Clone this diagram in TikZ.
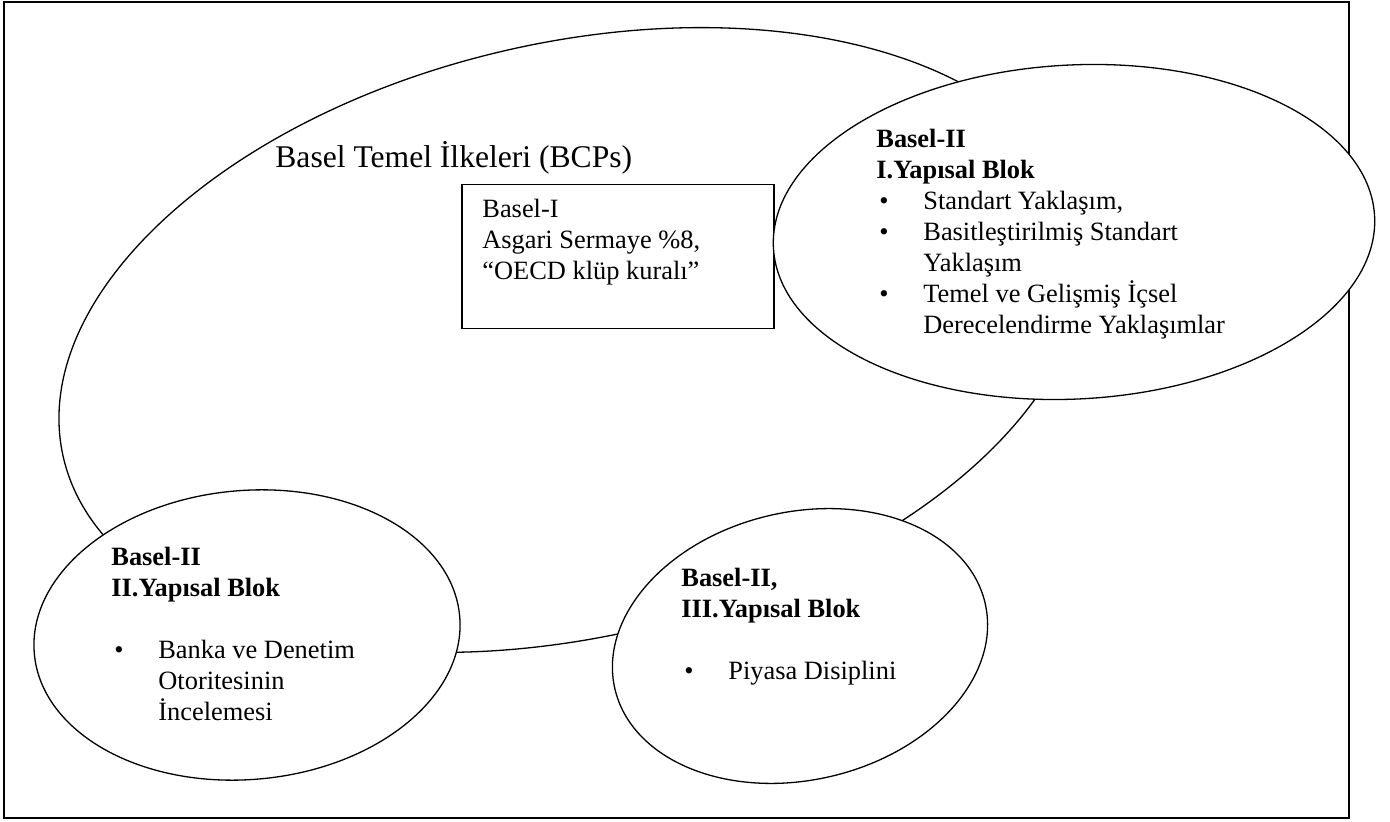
\documentclass[tikz,border=0pt]{standalone}
\usepackage{fontspec}
\setmainfont{Liberation Serif}
\newcommand{\bmark}{\makebox[23.5pt][l]{\kern1.5pt\textbullet}}
\newcommand{\bskip}{\hspace*{23.5pt}}

\begin{document}
\begin{tikzpicture}[x=0.5pt, y=-0.5pt,
    blob/.style={draw, line width=0.65pt, fill=white},
    txt/.style={inner sep=0pt, anchor=base west, align=left, font=\fontsize{13.2}{15.5}\selectfont},
    box/.style={draw, line width=0.75pt, inner sep=0pt, anchor=north west, minimum width=156pt, minimum height=72pt}
]
    \useasboundingbox (0,0) rectangle (1390,822);
    \draw[line width=1pt] (4,2) rectangle (1349,818);

    \draw[line width=0.65pt, rotate around={13:(572,340)}] (572,340) ellipse [x radius=522, y radius=297];
    \node[txt, font=\fontsize{15.8}{18}\selectfont] (bcp) at (275,168) {Basel Temel İlkeleri (BCPs)};

    \node[box] (b1) at (461,184) {};
    \node[txt] (b1txt) at (482,280) {Basel-I\\ Asgari Sermaye \%8,\\ “OECD klüp kuralı”};

    \draw[blob, rotate around={3:(1074,232)}] (1074,232) ellipse [x radius=301, y radius=167];
    \node[txt] (p1) at (876,334) {\textbf{Basel-II}\\ \textbf{I.Yapısal Blok}\\
        \bmark Standart Yaklaşım,\\ \bmark Basitleştirilmiş Standart\\ \bskip Yaklaşım\\
        \bmark Temel ve Gelişmiş İçsel\\ \bskip Derecelendirme Yaklaşımlar};

    \draw[blob, rotate around={5:(247,635)}] (247,635) ellipse [x radius=213.5, y radius=144.5];
    \node[txt] (p2) at (111,720) {\textbf{Basel-II}\\ \textbf{II.Yapısal Blok}\\[15.5pt]
        \bmark Banka ve Denetim\\ \bskip Otoritesinin\\ \bskip İncelemesi};

    \draw[blob, rotate around={13:(800,646)}] (800,646) ellipse [x radius=190, y radius=134];
    \node[txt] (p3) at (681,679) {\textbf{Basel-II,}\\ \textbf{III.Yapısal Blok}\\[15.5pt]
        \bmark Piyasa Disiplini};
\end{tikzpicture}
\end{document}
